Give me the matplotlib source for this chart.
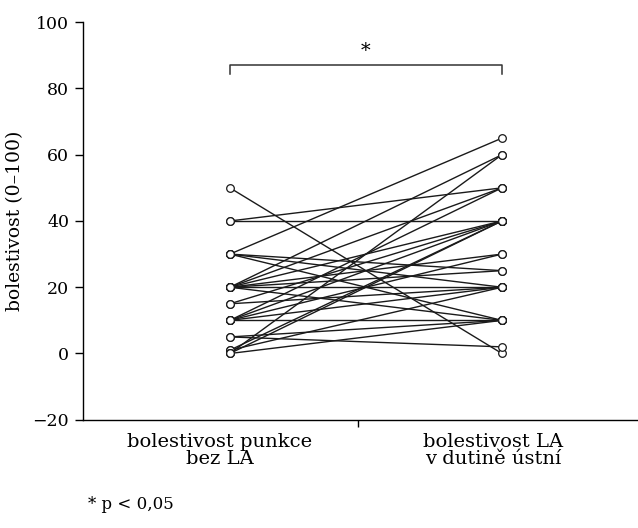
import matplotlib.pyplot as plt

plt.rcParams['font.family'] = ['DejaVu Serif']

# paired pain scores (0-100), one pair per patient
before = [50, 40, 40, 30, 30, 30, 30,
          20, 20, 20, 20, 20, 20, 20,
          15, 15, 10, 10, 10, 10, 10,
          5, 5, 1, 1, 0, 0, 0]
after = [0, 40, 50, 65, 25, 20, 10,
         60, 50, 40, 30, 25, 20, 10,
         40, 20, 50, 40, 30, 20, 10,
         2, 10, 40, 20, 60, 40, 10]
group_labels = ['bolestivost punkce\nbez LA', 'bolestivost LA\nv dutině ústní']
yticks = [-20, 0, 20, 40, 60, 80, 100]

fig = plt.figure(figsize=(6.38, 5.28), dpi=100)
ax = fig.add_axes([0.130, 0.205, 0.87, 0.753])

for b, a in zip(before, after):
    ax.plot([1, 2], [b, a], color='#1a1a1a', lw=1.0, zorder=2)
ax.plot([1] * len(before), before, 'o', ms=5.5, mfc='white', mec='#1a1a1a', mew=0.9, zorder=3)
ax.plot([2] * len(after), after, 'o', ms=5.5, mfc='white', mec='#1a1a1a', mew=0.9, zorder=3)

# significance bracket
ax.plot([1, 1, 2, 2], [84.5, 87, 87, 84.5], color='#333333', lw=1.1, clip_on=False)
ax.text(1.5, 88.5, '*', ha='center', va='bottom', fontsize=14)

ax.set_xlim(0.46, 2.5)
ax.set_ylim(-20, 100)
ax.set_yticks(yticks)
ax.set_yticklabels([str(v).replace('-', '−') for v in yticks])
ax.set_xticks([1.47])
ax.set_xticklabels([''])
ax.tick_params(axis='y', direction='out', length=6, width=1, labelsize=12.5, pad=4)
ax.tick_params(axis='x', direction='out', length=5, width=1)
for s in ['top', 'right']:
    ax.spines[s].set_visible(False)
ax.spines['left'].set_linewidth(1)
ax.spines['bottom'].set_linewidth(1)

ax.set_ylabel('bolestivost (0–100)', fontsize=13.5, labelpad=6)

for x, lab in zip([0.963, 1.967], group_labels):
    ax.text(x, -24, lab, ha='center', va='top', fontsize=14, linespacing=0.9)

fig.text(0.138, 0.028, '* p < 0,05', ha='left', va='bottom', fontsize=12)

fig.savefig('out.png', dpi=100)
